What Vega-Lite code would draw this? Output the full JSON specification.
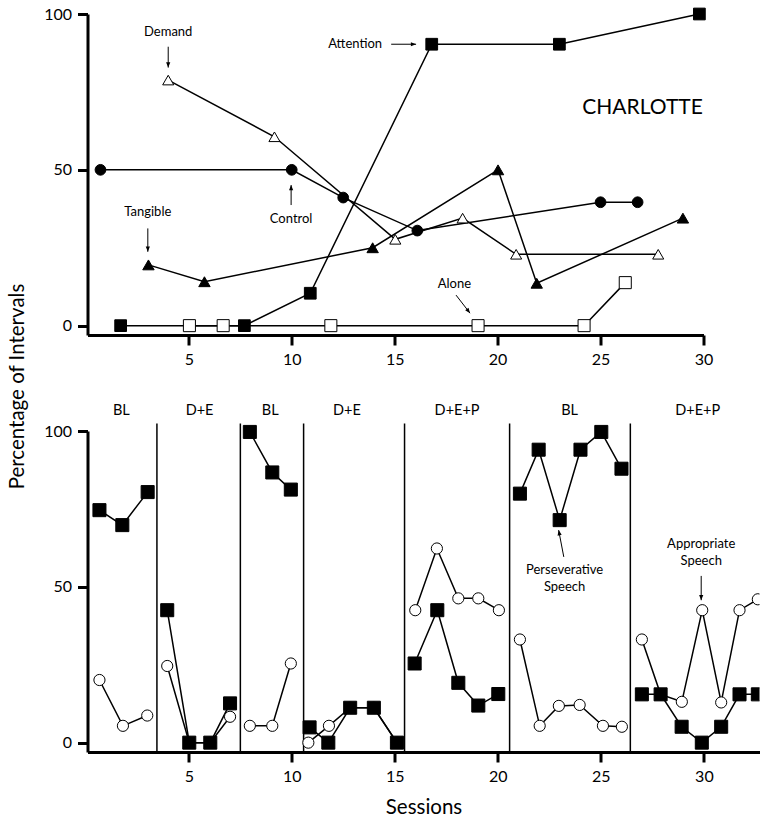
{
  "$schema": "https://vega.github.io/schema/vega-lite/v6.json",
  "padding": {"left": 7.5, "top": 6, "right": 0, "bottom": 0},
  "bounds": "flush",
  "spacing": 96,
  "datasets": {
    "top": [
      {"series": "Control", "session": 0.71, "value": 50},
      {"series": "Control", "session": 10.0, "value": 50},
      {"series": "Control", "session": 12.5, "value": 41.1},
      {"series": "Control", "session": 16.1, "value": 30.5},
      {"series": "Control", "session": 25.0, "value": 39.6},
      {"series": "Control", "session": 26.8, "value": 39.6},
      {"series": "Demand", "session": 4.0, "value": 78.8},
      {"series": "Demand", "session": 9.16, "value": 60.6},
      {"series": "Demand", "session": 15.03, "value": 27.7},
      {"series": "Demand", "session": 18.3, "value": 34.5},
      {"series": "Demand", "session": 20.9, "value": 22.9},
      {"series": "Demand", "session": 27.8, "value": 22.9},
      {"series": "Tangible", "session": 3.04, "value": 19.5},
      {"series": "Tangible", "session": 5.76, "value": 14.1},
      {"series": "Tangible", "session": 13.93, "value": 25.0},
      {"series": "Tangible", "session": 20.02, "value": 50.0},
      {"series": "Tangible", "session": 21.9, "value": 13.6},
      {"series": "Tangible", "session": 29.0, "value": 34.5},
      {"series": "Alone", "session": 5.03, "value": 0},
      {"series": "Alone", "session": 6.67, "value": 0},
      {"series": "Alone", "session": 11.9, "value": 0},
      {"series": "Alone", "session": 19.05, "value": 0},
      {"series": "Alone", "session": 24.2, "value": 0},
      {"series": "Alone", "session": 26.2, "value": 13.8},
      {"series": "Attention", "session": 1.69, "value": 0},
      {"series": "Attention", "session": 7.7, "value": 0},
      {"series": "Attention", "session": 10.9, "value": 10.4},
      {"series": "Attention", "session": 16.8, "value": 90.3},
      {"series": "Attention", "session": 23.0, "value": 90.3},
      {"series": "Attention", "session": 29.8, "value": 100}
    ],
    "topNotes": [
      {"label": "Demand", "session": 4.0, "value": 94.1},
      {"label": "Attention", "session": 13.08, "value": 90.3},
      {"label": "Control", "session": 9.97, "value": 34.2},
      {"label": "Tangible", "session": 3.01, "value": 36.4},
      {"label": "Alone", "session": 17.9, "value": 13.4}
    ],
    "topTitle": [
      {"label": "CHARLOTTE", "session": 27.04, "value": 69.7}
    ],
    "topArrows": [
      {"session": 4.0, "value": 89.5, "session2": 4.0, "value2": 82.8, "dir": "down"},
      {"session": 14.83, "value": 90.3, "session2": 16.04, "value2": 90.3, "dir": "right"},
      {"session": 9.97, "value": 38.7, "session2": 9.97, "value2": 45.1, "dir": "up"},
      {"session": 3.01, "value": 31.2, "session2": 3.01, "value2": 23.7, "dir": "down"},
      {"session": 17.98, "value": 9.8, "session2": 18.66, "value2": 4.0, "dir": "downright"}
    ],
    "bottom": [
      {"series": "Appropriate Speech", "phase": 1, "session": 0.66, "value": 20.1},
      {"series": "Appropriate Speech", "phase": 1, "session": 1.8, "value": 5.4},
      {"series": "Appropriate Speech", "phase": 1, "session": 2.98, "value": 8.7},
      {"series": "Appropriate Speech", "phase": 2, "session": 3.95, "value": 24.6},
      {"series": "Appropriate Speech", "phase": 2, "session": 5.02, "value": 0},
      {"series": "Appropriate Speech", "phase": 2, "session": 6.04, "value": 0},
      {"series": "Appropriate Speech", "phase": 2, "session": 7.0, "value": 8.3},
      {"series": "Appropriate Speech", "phase": 3, "session": 7.96, "value": 5.4},
      {"series": "Appropriate Speech", "phase": 3, "session": 9.05, "value": 5.4},
      {"series": "Appropriate Speech", "phase": 3, "session": 9.95, "value": 25.4},
      {"series": "Appropriate Speech", "phase": 4, "session": 10.8, "value": 0},
      {"series": "Appropriate Speech", "phase": 4, "session": 11.8, "value": 5.4},
      {"series": "Appropriate Speech", "phase": 4, "session": 12.83, "value": 11.2},
      {"series": "Appropriate Speech", "phase": 4, "session": 13.98, "value": 11.2},
      {"series": "Appropriate Speech", "phase": 4, "session": 15.1, "value": 0},
      {"series": "Appropriate Speech", "phase": 5, "session": 15.99, "value": 42.5},
      {"series": "Appropriate Speech", "phase": 5, "session": 17.04, "value": 62.3},
      {"series": "Appropriate Speech", "phase": 5, "session": 18.08, "value": 46.3},
      {"series": "Appropriate Speech", "phase": 5, "session": 19.05, "value": 46.3},
      {"series": "Appropriate Speech", "phase": 5, "session": 20.05, "value": 42.5},
      {"series": "Appropriate Speech", "phase": 6, "session": 21.07, "value": 33.1},
      {"series": "Appropriate Speech", "phase": 6, "session": 22.03, "value": 5.4},
      {"series": "Appropriate Speech", "phase": 6, "session": 22.96, "value": 11.8},
      {"series": "Appropriate Speech", "phase": 6, "session": 23.97, "value": 12.1},
      {"series": "Appropriate Speech", "phase": 6, "session": 25.1, "value": 5.4},
      {"series": "Appropriate Speech", "phase": 6, "session": 26.02, "value": 5.1},
      {"series": "Appropriate Speech", "phase": 7, "session": 26.99, "value": 33.1},
      {"series": "Appropriate Speech", "phase": 7, "session": 27.9, "value": 15.5},
      {"series": "Appropriate Speech", "phase": 7, "session": 28.93, "value": 13.1},
      {"series": "Appropriate Speech", "phase": 7, "session": 29.92, "value": 42.5},
      {"series": "Appropriate Speech", "phase": 7, "session": 30.84, "value": 12.9},
      {"series": "Appropriate Speech", "phase": 7, "session": 31.73, "value": 42.5},
      {"series": "Appropriate Speech", "phase": 7, "session": 32.62, "value": 46.0},
      {"series": "Perseverative Speech", "phase": 1, "session": 0.66, "value": 74.6},
      {"series": "Perseverative Speech", "phase": 1, "session": 1.77, "value": 69.8},
      {"series": "Perseverative Speech", "phase": 1, "session": 3.0, "value": 80.4},
      {"series": "Perseverative Speech", "phase": 2, "session": 3.95, "value": 42.5},
      {"series": "Perseverative Speech", "phase": 2, "session": 5.02, "value": 0},
      {"series": "Perseverative Speech", "phase": 2, "session": 6.04, "value": 0},
      {"series": "Perseverative Speech", "phase": 2, "session": 7.0, "value": 12.6},
      {"series": "Perseverative Speech", "phase": 3, "session": 7.96, "value": 99.7},
      {"series": "Perseverative Speech", "phase": 3, "session": 9.05, "value": 86.7},
      {"series": "Perseverative Speech", "phase": 3, "session": 9.95, "value": 81.2},
      {"series": "Perseverative Speech", "phase": 4, "session": 10.86, "value": 4.9},
      {"series": "Perseverative Speech", "phase": 4, "session": 11.77, "value": 0},
      {"series": "Perseverative Speech", "phase": 4, "session": 12.83, "value": 11.2},
      {"series": "Perseverative Speech", "phase": 4, "session": 13.98, "value": 11.2},
      {"series": "Perseverative Speech", "phase": 4, "session": 15.1, "value": 0},
      {"series": "Perseverative Speech", "phase": 5, "session": 15.96, "value": 25.4},
      {"series": "Perseverative Speech", "phase": 5, "session": 17.06, "value": 42.5},
      {"series": "Perseverative Speech", "phase": 5, "session": 18.08, "value": 19.2},
      {"series": "Perseverative Speech", "phase": 5, "session": 19.05, "value": 11.9},
      {"series": "Perseverative Speech", "phase": 5, "session": 20.02, "value": 15.6},
      {"series": "Perseverative Speech", "phase": 6, "session": 21.07, "value": 79.9},
      {"series": "Perseverative Speech", "phase": 6, "session": 21.98, "value": 94.0},
      {"series": "Perseverative Speech", "phase": 6, "session": 23.0, "value": 71.4},
      {"series": "Perseverative Speech", "phase": 6, "session": 24.01, "value": 94.0},
      {"series": "Perseverative Speech", "phase": 6, "session": 25.02, "value": 99.7},
      {"series": "Perseverative Speech", "phase": 6, "session": 26.0, "value": 87.9},
      {"series": "Perseverative Speech", "phase": 7, "session": 26.99, "value": 15.5},
      {"series": "Perseverative Speech", "phase": 7, "session": 27.9, "value": 15.5},
      {"series": "Perseverative Speech", "phase": 7, "session": 28.92, "value": 5.1},
      {"series": "Perseverative Speech", "phase": 7, "session": 29.9, "value": 0},
      {"series": "Perseverative Speech", "phase": 7, "session": 30.84, "value": 5.1},
      {"series": "Perseverative Speech", "phase": 7, "session": 31.73, "value": 15.5},
      {"series": "Perseverative Speech", "phase": 7, "session": 32.62, "value": 15.5}
    ],
    "phaseLines": [
      {"session": 3.45}, {"session": 7.5}, {"session": 10.57},
      {"session": 15.47}, {"session": 20.57}, {"session": 26.43}
    ],
    "phaseLabels": [
      {"label": "BL", "session": 1.72, "value": 106.4},
      {"label": "D+E", "session": 5.52, "value": 106.4},
      {"label": "BL", "session": 8.95, "value": 106.4},
      {"label": "D+E", "session": 12.67, "value": 106.4},
      {"label": "D+E+P", "session": 18.02, "value": 106.4},
      {"label": "BL", "session": 23.48, "value": 106.4},
      {"label": "D+E+P", "session": 29.7, "value": 106.4}
    ],
    "bottomNotes": [
      {"label": "Perseverative", "session": 23.24, "value": 55.4},
      {"label": "Speech", "session": 23.24, "value": 50.0},
      {"label": "Appropriate", "session": 29.87, "value": 63.6},
      {"label": "Speech", "session": 29.87, "value": 58.2}
    ],
    "bottomArrows": [
      {"session": 23.2, "value": 59.6, "session2": 22.95, "value2": 68.2, "dir": "upleft"},
      {"session": 29.87, "value": 53.5, "session2": 29.87, "value2": 45.7, "dir": "down"}
    ]
  },
  "vconcat": [
    {
      "width": 616,
      "height": 321,
      "encoding": {
        "x": {"field": "session", "type": "quantitative",
              "scale": {"domain": [0.08, 30], "nice": false, "zero": false},
              "axis": {"values": [5, 10, 15, 20, 25, 30], "title": null}},
        "y": {"field": "value", "type": "quantitative",
              "scale": {"domain": [-3, 100], "nice": false, "zero": false},
              "axis": {"values": [0, 50, 100], "title": null}}
      },
      "layer": [
        {
          "data": {"name": "top"},
          "mark": {"type": "line", "color": "black", "strokeWidth": 1.5},
          "encoding": {"detail": {"field": "series"}, "order": {"field": "session"}}
        },
        {
          "data": {"name": "top"},
          "mark": {"type": "point", "filled": true, "stroke": "black", "strokeWidth": 1, "opacity": 1},
          "encoding": {
            "shape": {"field": "series", "type": "nominal", "legend": null,
                      "scale": {"domain": ["Control", "Demand", "Tangible", "Attention", "Alone"],
                                "range": ["circle", "triangle-up", "triangle-up", "square", "square"]}},
            "fill": {"field": "series", "type": "nominal", "legend": null,
                     "scale": {"domain": ["Control", "Demand", "Tangible", "Attention", "Alone"],
                               "range": ["black", "white", "black", "black", "white"]}},
            "size": {"field": "series", "type": "nominal", "legend": null,
                     "scale": {"domain": ["Control", "Demand", "Tangible", "Attention", "Alone"],
                               "range": [115, 145, 130, 140, 140]}}
          }
        },
        {
          "data": {"name": "topArrows"},
          "mark": {"type": "rule", "color": "black", "strokeWidth": 1},
          "encoding": {"x2": {"field": "session2"}, "y2": {"field": "value2"}}
        },
        {
          "data": {"name": "topArrows"},
          "mark": {"type": "point", "filled": true, "color": "black", "opacity": 1, "size": 110},
          "encoding": {
            "x": {"field": "session2", "type": "quantitative"},
            "y": {"field": "value2", "type": "quantitative"},
            "shape": {"field": "dir", "type": "nominal", "legend": null,
                      "scale": {"domain": ["down", "up", "right", "downright", "upleft"],
                                "range": ["M0,0L-0.4,-1L0.4,-1Z", "M0,0L-0.4,1L0.4,1Z", "M0,0L-1,-0.4L-1,0.4Z", "M0,0L-0.926,-0.551L-0.29,-1.037Z", "M0,0L0.578,0.909L-0.208,1.057Z"]}}
          }
        },
        {
          "data": {"name": "topNotes"},
          "mark": {"type": "text", "font": "Lato", "fontSize": 13, "color": "black"},
          "encoding": {"text": {"field": "label"}}
        },
        {
          "data": {"name": "topTitle"},
          "mark": {"type": "text", "font": "Lato", "fontSize": 21, "color": "black"},
          "encoding": {"text": {"field": "label"}}
        }
      ],
      "resolve": {"scale": {"shape": "independent", "fill": "independent", "size": "independent"}}
    },
    {
      "width": 672,
      "height": 321,
      "layer": [
        {
          "data": {"name": "phaseLines"},
          "mark": {"type": "rule", "color": "black", "strokeWidth": 1.5},
          "encoding": {
            "x": {"field": "session", "type": "quantitative",
                  "scale": {"domain": [0.08, 32.7], "nice": false, "zero": false},
                  "axis": {"values": [5, 10, 15, 20, 25, 30], "title": "Sessions", "titleFontSize": 20.5, "titlePadding": 13}},
            "y": {"datum": -3, "type": "quantitative",
                  "scale": {"domain": [-3, 100], "nice": false, "zero": false},
                  "axis": {"values": [0, 50, 100], "title": "Percentage of Intervals", "titleFontSize": 20.5,
                           "titleX": -70, "titleY": -45, "titleAngle": -90, "titleAlign": "center", "titleBaseline": "middle"}},
            "y2": {"datum": 102.4}
          }
        },
        {
          "data": {"name": "phaseLabels"},
          "mark": {"type": "text", "font": "Lato", "fontSize": 14.5, "color": "black"},
          "encoding": {
            "x": {"field": "session", "type": "quantitative"},
            "y": {"field": "value", "type": "quantitative"},
            "text": {"field": "label"}
          }
        },
        {
          "data": {"name": "bottom"},
          "mark": {"type": "line", "color": "black", "strokeWidth": 1.5},
          "encoding": {
            "x": {"field": "session", "type": "quantitative"},
            "y": {"field": "value", "type": "quantitative"},
            "detail": [{"field": "series"}, {"field": "phase"}],
            "order": {"field": "session"}
          }
        },
        {
          "data": {"name": "bottom"},
          "transform": [{"filter": "datum.session < 32"}],
          "mark": {"type": "point", "filled": true, "stroke": "black", "strokeWidth": 1, "opacity": 1},
          "encoding": {
            "x": {"field": "session", "type": "quantitative"},
            "y": {"field": "value", "type": "quantitative"},
            "shape": {"field": "series", "type": "nominal", "legend": null,
                      "scale": {"domain": ["Appropriate Speech", "Perseverative Speech"], "range": ["circle", "square"]}},
            "fill": {"field": "series", "type": "nominal", "legend": null,
                     "scale": {"domain": ["Appropriate Speech", "Perseverative Speech"], "range": ["white", "black"]}},
            "size": {"field": "series", "type": "nominal", "legend": null,
                     "scale": {"domain": ["Appropriate Speech", "Perseverative Speech"], "range": [125, 170]}}
          }
        },
        {
          "data": {"name": "bottom"},
          "transform": [{"filter": "datum.session >= 32"}],
          "mark": {"type": "point", "filled": true, "stroke": "black", "strokeWidth": 1, "opacity": 1, "clip": true},
          "encoding": {
            "x": {"field": "session", "type": "quantitative"},
            "y": {"field": "value", "type": "quantitative"},
            "shape": {"field": "series", "type": "nominal", "legend": null,
                      "scale": {"domain": ["Appropriate Speech", "Perseverative Speech"], "range": ["circle", "square"]}},
            "fill": {"field": "series", "type": "nominal", "legend": null,
                     "scale": {"domain": ["Appropriate Speech", "Perseverative Speech"], "range": ["white", "black"]}},
            "size": {"field": "series", "type": "nominal", "legend": null,
                     "scale": {"domain": ["Appropriate Speech", "Perseverative Speech"], "range": [125, 170]}}
          }
        },
        {
          "data": {"name": "bottomArrows"},
          "mark": {"type": "rule", "color": "black", "strokeWidth": 1},
          "encoding": {
            "x": {"field": "session", "type": "quantitative"},
            "y": {"field": "value", "type": "quantitative"},
            "x2": {"field": "session2"},
            "y2": {"field": "value2"}
          }
        },
        {
          "data": {"name": "bottomArrows"},
          "mark": {"type": "point", "filled": true, "color": "black", "opacity": 1, "size": 110},
          "encoding": {
            "x": {"field": "session2", "type": "quantitative"},
            "y": {"field": "value2", "type": "quantitative"},
            "shape": {"field": "dir", "type": "nominal", "legend": null,
                      "scale": {"domain": ["down", "up", "right", "downright", "upleft"],
                                "range": ["M0,0L-0.4,-1L0.4,-1Z", "M0,0L-0.4,1L0.4,1Z", "M0,0L-1,-0.4L-1,0.4Z", "M0,0L-0.926,-0.551L-0.29,-1.037Z", "M0,0L0.578,0.909L-0.208,1.057Z"]}}
          }
        },
        {
          "data": {"name": "bottomNotes"},
          "mark": {"type": "text", "font": "Lato", "fontSize": 13, "color": "black"},
          "encoding": {
            "x": {"field": "session", "type": "quantitative"},
            "y": {"field": "value", "type": "quantitative"},
            "text": {"field": "label"}
          }
        }
      ],
      "resolve": {"scale": {"shape": "independent", "fill": "independent", "size": "independent"}}
    }
  ],
  "config": {
    "view": {"stroke": null},
    "font": "Lato",
    "axis": {
      "grid": false,
      "domainColor": "black",
      "domainWidth": 3,
      "tickColor": "black",
      "tickWidth": 3,
      "tickSize": 10,
      "labelColor": "black",
      "labelFont": "Lato",
      "labelFontSize": 16,
      "labelPadding": 6,
      "labelFlush": false,
      "titleFont": "Lato",
      "titleColor": "black",
      "titleFontWeight": "normal"
    }
  }
}
